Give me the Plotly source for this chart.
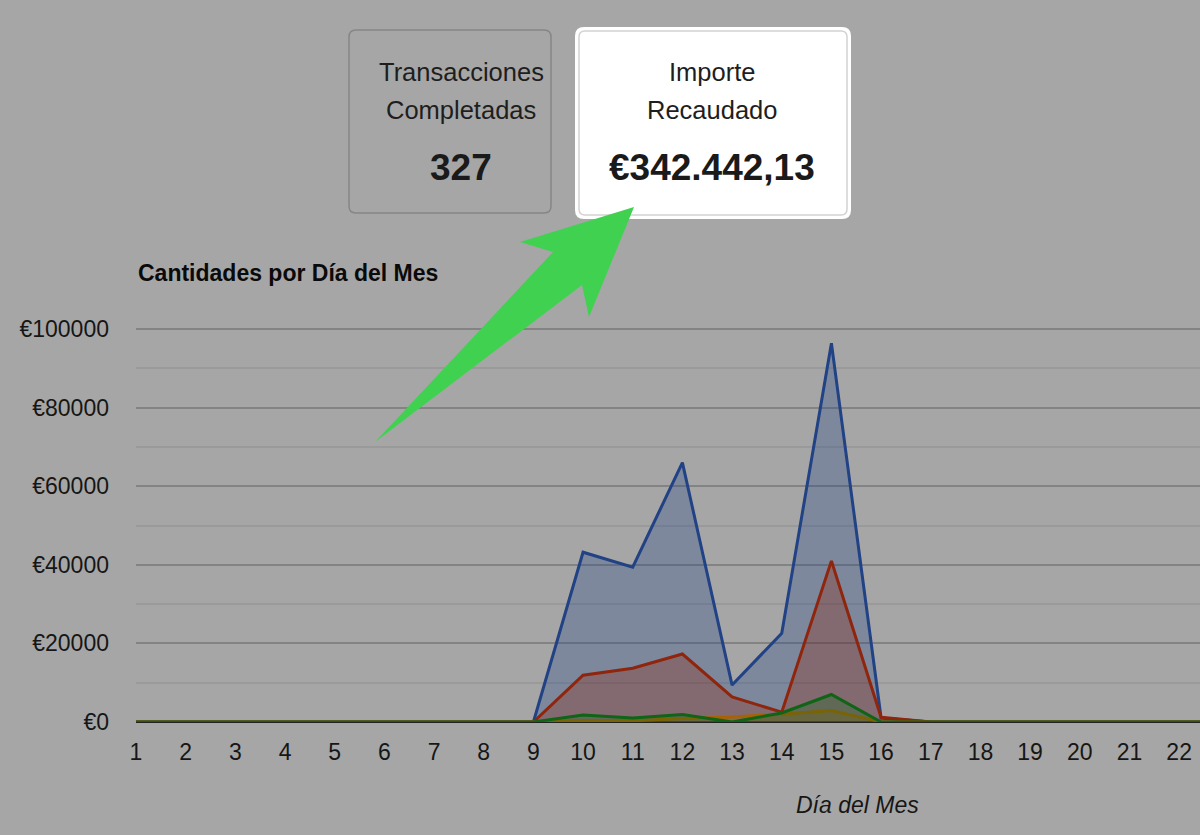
"""Dashboard: Cantidades por Día del Mes (area chart with KPI cards)."""
import plotly.graph_objects as go

# ---- data ----
days = list(range(1, 24))
serie_azul = [0, 0, 0, 0, 0, 0, 0, 0, 0, 43200, 39400, 66000, 9400, 22600, 96400, 1000, 0, 0, 0, 0, 0, 0, 0]
serie_roja = [0, 0, 0, 0, 0, 0, 0, 0, 0, 11900, 13700, 17300, 6400, 2500, 41000, 1200, 0, 0, 0, 0, 0, 0, 0]
serie_naranja = [0, 0, 0, 0, 0, 0, 0, 0, 0, 400, 300, 900, 1300, 2000, 2900, 0, 0, 0, 0, 0, 0, 0, 0]
serie_verde = [0, 0, 0, 0, 0, 0, 0, 0, 0, 1800, 1000, 1900, 0, 2300, 7000, 0, 0, 0, 0, 0, 0, 0, 0]
series_names = ["Serie 1", "Serie 2", "Serie 3", "Serie 4"]
x_ticks = list(range(1, 23))
y_ticks = [0, 20000, 40000, 60000, 80000, 100000]
y_ticktext = [f"€{v}" for v in y_ticks]

card_labels = [["Transacciones", "Completadas"], ["Importe", "Recaudado"]]
card_values = ["327", "€342.442,13"]

# ---- page geometry (pixels) ----
W, H = 1200, 835
L, R, T, B = 136, 0, 300, 113
PW, PH = W - L - R, H - T - B


def px(x):
    return (x - L) / PW


def py(y):
    return (H - B - y) / PH


def rounded_rect(x0, y0, x1, y1, r):
    """Rounded rectangle path in paper coords from pixel corners."""
    pts = [
        f"M{px(x0 + r)},{py(y0)}",
        f"L{px(x1 - r)},{py(y0)}",
        f"Q{px(x1)},{py(y0)} {px(x1)},{py(y0 + r)}",
        f"L{px(x1)},{py(y1 - r)}",
        f"Q{px(x1)},{py(y1)} {px(x1 - r)},{py(y1)}",
        f"L{px(x0 + r)},{py(y1)}",
        f"Q{px(x0)},{py(y1)} {px(x0)},{py(y1 - r)}",
        f"L{px(x0)},{py(y0 + r)}",
        f"Q{px(x0)},{py(y0)} {px(x0 + r)},{py(y0)}",
        "Z",
    ]
    return " ".join(pts)


bg = "#a6a6a6"
text_col = "#161616"
line_cols = ["rgb(33,66,133)", "rgb(143,37,12)", "rgb(166,99,0)", "rgb(16,100,22)"]
fill_cols = ["rgba(33,66,133,0.3)", "rgba(143,37,12,0.3)", "rgba(166,99,0,0.3)", "rgba(16,100,22,0.3)"]

fig = go.Figure()
for name, vals, lc, fc in zip(series_names, [serie_azul, serie_roja, serie_naranja, serie_verde], line_cols, fill_cols):
    fig.add_trace(go.Scatter(
        x=days, y=vals, name=name, mode="lines",
        line=dict(color=lc, width=3), fill="tozeroy", fillcolor=fc,
    ))

# KPI cards
shapes = [
    dict(type="path", xref="paper", yref="paper", path=rounded_rect(349, 30, 551, 213, 7),
         fillcolor=bg, line=dict(color="#868686", width=1.5), layer="above"),
    dict(type="path", xref="paper", yref="paper", path=rounded_rect(575, 27, 851, 219, 9),
         fillcolor="#ffffff", line=dict(width=0), layer="above"),
    dict(type="path", xref="paper", yref="paper", path=rounded_rect(579, 31, 847, 215, 6),
         fillcolor="#ffffff", line=dict(color="#d2d2d2", width=1.5), layer="above"),
]

# green arrow
arrow_pts = [(375, 442), (553, 252), (520, 242), (634, 207), (589, 317), (582, 285)]
arrow_path = "M" + " L".join(f"{px(a)},{py(b)}" for a, b in arrow_pts) + " Z"
shapes.append(dict(type="path", xref="paper", yref="paper", path=arrow_path,
                   fillcolor="#41d151", line=dict(width=0), layer="above"))

annotations = [
    dict(text="<b>Cantidades por Día del Mes</b>", x=px(136), y=py(273), xref="paper", yref="paper",
         xanchor="left", yanchor="middle", showarrow=False,
         font=dict(family="Liberation Sans", size=23, color="#0a0a0a")),
    dict(text="<i>Día del Mes</i>", x=px(857), y=py(805), xref="paper", yref="paper",
         xanchor="center", yanchor="middle", showarrow=False,
         font=dict(family="Liberation Sans", size=23, color=text_col)),
]
for cx, labs, val in zip([461, 712], card_labels, card_values):
    for ly, lab in zip([72, 110], labs):
        annotations.append(dict(text=lab, x=px(cx), y=py(ly), xref="paper", yref="paper",
                                xanchor="center", yanchor="middle", showarrow=False,
                                font=dict(family="Liberation Sans", size=25.5, color="#1e1e1e")))
    annotations.append(dict(text=f"<b>{val}</b>", x=px(cx), y=py(167), xref="paper", yref="paper",
                            xanchor="center", yanchor="middle", showarrow=False,
                            font=dict(family="Liberation Sans", size=37, color="#1a1a1a")))

fig.update_layout(
    width=W, height=H,
    margin=dict(l=L, r=R, t=T, b=B, pad=0),
    paper_bgcolor=bg, plot_bgcolor=bg,
    showlegend=False,
    shapes=shapes,
    annotations=annotations,
    font=dict(family="Liberation Sans", color=text_col),
)
fig.update_xaxes(
    range=[1, 22.42], tickvals=x_ticks, showgrid=False, zeroline=False, showline=False,
    ticks="", ticklabelstandoff=14, tickfont=dict(size=23, color=text_col),
)
fig.update_yaxes(
    range=[0, PH / 393 * 100000], tickvals=y_ticks, ticktext=y_ticktext,
    showgrid=True, gridcolor="#838383", gridwidth=1.5,
    minor=dict(dtick=10000, tick0=0, showgrid=True, gridcolor="#9a9a9a", gridwidth=1.5, ticks=""),
    zeroline=True, zerolinecolor="#222222", zerolinewidth=1.5,
    ticks="", ticklabelstandoff=26, tickfont=dict(size=23, color=text_col),
)

fig.write_html("out.html", config={"displayModeBar": False},
               post_script="document.body.style.margin='0';")
